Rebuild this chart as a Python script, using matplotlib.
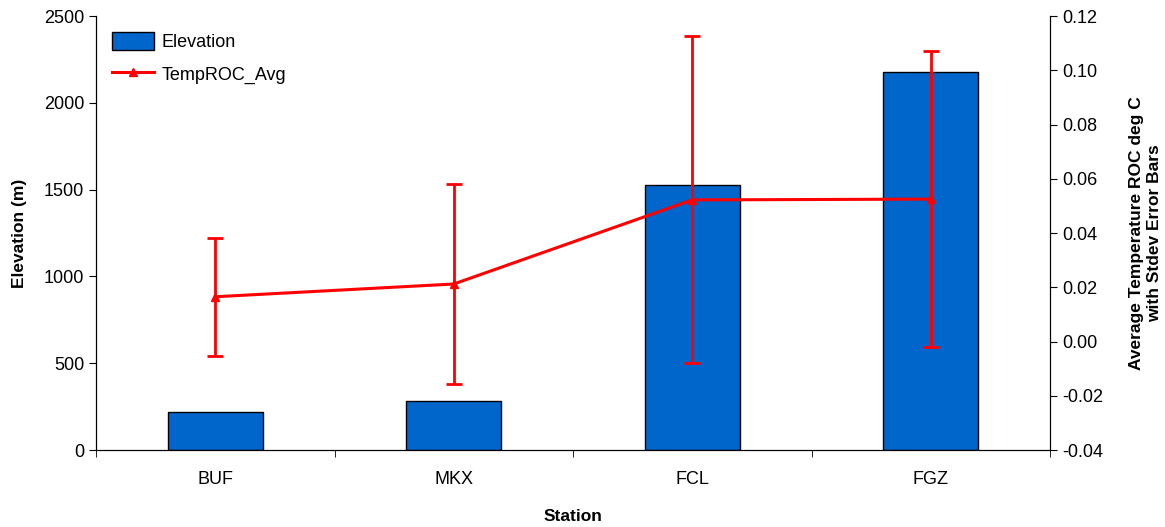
import numpy as np
import matplotlib.pyplot as plt
from matplotlib import rcParams
from matplotlib.lines import Line2D

rcParams['font.family'] = ['Liberation Sans', 'DejaVu Sans']

# data
stations = ["BUF", "MKX", "FCL", "FGZ"]
elevation = [220, 282, 1527, 2179]
temp_roc = [0.0165, 0.0212, 0.0522, 0.0525]
temp_sd = [0.0218, 0.0370, 0.0603, 0.0546]

x = np.arange(len(stations))

fig = plt.figure(figsize=(11.65, 5.27), dpi=100)
ax = fig.add_axes([0.0824, 0.1461, 0.8189, 0.8235])

bars = ax.bar(x, elevation, width=0.4, color='#0066CC', edgecolor='black',
              linewidth=1.0, label='Elevation')
ax.set_xlim(-0.5, 3.5)
ax.set_ylim(0, 2500)
ax.set_yticks(np.arange(0, 2501, 500))
ax.set_xticks(x)
ax.set_xticklabels(stations)
ax.set_xticks(np.arange(-0.5, 3.6, 1), minor=True)
ax.tick_params(axis='x', which='major', length=0, pad=15, labelsize=13)
ax.tick_params(axis='x', which='minor', length=5, direction='out')
ax.tick_params(axis='y', length=5, direction='out', labelsize=13)
ax.set_xlabel("Station", fontsize=12.5, fontweight='bold', labelpad=15)
ax.set_ylabel("Elevation (m)", fontsize=12.5, fontweight='bold', labelpad=12)
ax.spines['top'].set_visible(False)

ax2 = ax.twinx()
ax2.errorbar(x, temp_roc, yerr=temp_sd, color='#FF0000', marker='^',
             markersize=6, linewidth=2.2, elinewidth=2, capsize=6,
             capthick=2)
ax2.set_ylim(-0.04, 0.12)
ax2.set_yticks(np.arange(-0.04, 0.121, 0.02))
ax2.set_yticklabels([f"{v:.2f}" for v in np.arange(-0.04, 0.121, 0.02)])
ax2.tick_params(axis='y', length=5, direction='out', labelsize=13)
ax2.set_ylabel("Average Temperature ROC deg C\nwith Stdev Error Bars",
               fontsize=12.5, fontweight='bold', labelpad=19)
ax2.spines['top'].set_visible(False)

line_handle = Line2D([], [], color='#FF0000', marker='^', markersize=6,
                     linewidth=2.2)
ax2.legend([bars, line_handle], ['Elevation', 'TempROC_Avg'], loc='upper left',
           bbox_to_anchor=(0.0, 1.0), frameon=False, fontsize=13,
           handlelength=2.3, handleheight=1.1, handletextpad=0.45,
           labelspacing=0.75)

plt.savefig("out.png", dpi=100)
